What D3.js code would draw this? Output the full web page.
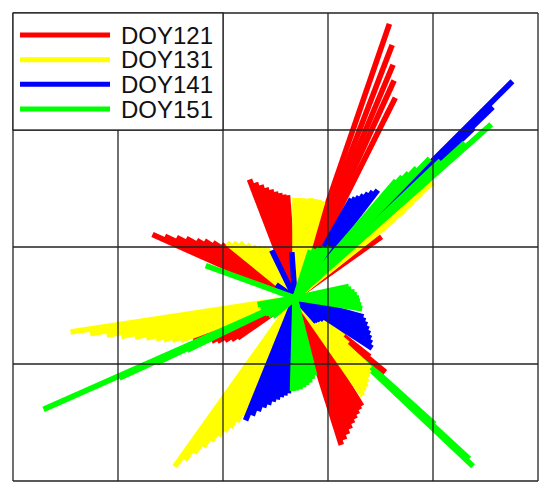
<!DOCTYPE html>
<html><head><meta charset="utf-8">
<script src="https://cdn.jsdelivr.net/npm/d3@7"></script>
<style>html,body{margin:0;padding:0;background:#fff;} svg{display:block;}</style>
</head><body>
<svg id="chart" width="550" height="494"></svg>
<script>
// Series (legend) names and colours
const seriesNames = ["DOY121", "DOY131", "DOY141", "DOY151"];
const seriesColors = ["#ff0000", "#ffff00", "#0000ff", "#00ff00"];

// Each ray: [direction in degrees (counter-clockwise from east), magnitude]
const rays121 = [
  [111.0,1.27],[108.9,1.22],[106.8,1.18],[104.8,1.14],[102.6,1.11],[100.5,1.08],[98.4,1.06],[96.3,1.04],[94.2,1.03],
  [71.0,2.90],[69.0,2.71],[67.2,2.53],[65.5,2.39],[63.4,2.24],
  [156.0,1.56],[154.6,1.44],[152.9,1.33],[151.3,1.24],[149.6,1.14],[147.8,1.07],[145.9,0.99],[144.0,0.91],
  [35.3,1.06],
  [202.0,1.10],[203.8,1.05],[205.6,0.99],[207.4,0.94],[209.2,0.89],[211.2,0.82],[213.2,0.76],[214.8,0.70],
  [320.6,1.17],[321.8,0.95],
  [287.5,1.54],[289.3,1.50],[291.1,1.46],[292.9,1.42],[294.7,1.38],[296.5,1.35],[298.3,1.32],[300.1,1.29],[301.7,1.27]
];
const rays131 = [
  [90.0,1.00],[87.7,1.00],[85.4,1.00],[83.1,1.00],[80.8,1.01],[78.5,1.01],[76.2,1.01],[74.0,1.01],
  [141.0,0.875],[138.0,0.83],[135.0,0.78],[132.0,0.72],[129.0,0.67],[126.0,0.63],[123.0,0.60],[120.0,0.575],
  [188.6,2.27],[189.9,2.08],[191.2,1.92],[192.5,1.78],[193.8,1.65],[195.1,1.54],[196.4,1.45],[197.7,1.38],[199.0,1.30],[200.3,1.22],
  [40.0,1.80],[39.6,1.64],[39.2,1.52],[38.8,1.40],[38.5,1.27],[38.3,1.15],
  [234.5,2.07],[235.8,1.96],[237.1,1.85],[238.4,1.75],[239.7,1.66],[241.0,1.58],[242.3,1.51],[243.6,1.45],[244.9,1.37],[246.3,1.29],
  [304.8,1.19],[306.8,1.16],[308.8,1.14],[310.8,1.11],[312.8,1.08],[314.8,1.06],[316.8,1.03],[319.0,0.70],[321.5,0.62]
];
const rays141 = [
  [44.9,3.07],[44.0,2.75],[43.6,2.47],[43.3,2.20],
  [60.3,1.14],[59.0,1.17],[57.7,1.20],[56.4,1.24],[55.1,1.28],[53.8,1.32],[52.5,1.36],
  [344.5,0.71],[342.0,0.74],[339.5,0.77],[337.0,0.80],[334.5,0.83],[332.0,0.86],[329.5,0.89],[327.0,0.92],
  [323.0,0.36],[319.0,0.34],[315.0,0.33],[312.0,0.32],
  [248.0,1.32],[250.0,1.25],[252.0,1.19],[254.0,1.14],[256.0,1.10],[258.0,1.06],[260.0,1.03],[262.0,1.00],[264.0,0.98],[266.0,0.955],
  [116.0,0.53],[94.0,0.46],[145.0,0.23]
];
// DOY151 rays that lie underneath the other days
const rays151Low = [
  [316.6,2.45],[317.3,2.37],[317.9,1.88]
];
const rays151 = [
  [203.9,2.75],[204.5,1.93],[205.1,1.53],[205.8,1.20],
  [160.0,0.95],
  [12.0,0.55],[9.0,0.57],[6.0,0.60],[3.0,0.62],[0.0,0.64],[357.0,0.65],[354.0,0.665],[351.0,0.68],
  [268.5,0.93],[270.8,0.925],[273.1,0.915],[275.4,0.90],[277.7,0.88],[280.0,0.86],[282.2,0.83],[284.2,0.80],
  [43.3,2.00],[42.4,2.30],[41.5,2.62],
  [49.3,1.55],[48.5,1.62],[47.7,1.69],[46.9,1.78],[46.0,1.94],
  [72.0,0.50],[68.0,0.53],[64.0,0.56],[60.0,0.59],[56.0,0.62],
  [190.0,0.38],[196.0,0.36],[202.0,0.35],[208.0,0.34],[214.0,0.32],[220.0,0.29]
];

// Grid line positions (data units)
const gridX = [-2.82, -1.77, -0.72, 0.33, 1.38, 2.43];
const gridY = [-1.83, -0.66, 0.51, 1.68, 2.85];

const svg = d3.select("#chart");
const x = d3.scaleLinear().domain([gridX[0], gridX[gridX.length-1]]).range([13, 538]);
const y = d3.scaleLinear().domain([gridY[0], gridY[gridY.length-1]]).range([481, 13]);

const layers = [
  {rays: rays151Low, color: seriesColors[3]},
  {rays: rays121, color: seriesColors[0]},
  {rays: rays131, color: seriesColors[1]},
  {rays: rays141, color: seriesColors[2]},
  {rays: rays151, color: seriesColors[3]}
];
const rad = d => d * Math.PI / 180;
const gRays = svg.append("g");
layers.forEach(L => {
  gRays.append("g").selectAll("line").data(L.rays).join("line")
    .attr("x1", x(0)).attr("y1", y(0))
    .attr("x2", d => x(d[1] * Math.cos(rad(d[0]))))
    .attr("y2", d => y(d[1] * Math.sin(rad(d[0]))))
    .attr("stroke", L.color).attr("stroke-width", 5.6).attr("stroke-linecap", "butt");
});

// Grid on top
const gGrid = svg.append("g").attr("stroke", "#222").attr("stroke-width", 1.3);
gGrid.selectAll("line.v").data(gridX).join("line").attr("class","v")
  .attr("x1", d => x(d)).attr("x2", d => x(d))
  .attr("y1", y(gridY[gridY.length-1])).attr("y2", y(gridY[0]));
gGrid.selectAll("line.h").data(gridY).join("line").attr("class","h")
  .attr("y1", d => y(d)).attr("y2", d => y(d))
  .attr("x1", x(gridX[0])).attr("x2", x(gridX[gridX.length-1]));

// Legend
const lg = svg.append("g");
lg.append("rect")
  .attr("x", x(gridX[0])).attr("y", y(gridY[4]))
  .attr("width", x(gridX[2]) - x(gridX[0])).attr("height", y(gridY[3]) - y(gridY[4]))
  .attr("fill", "#fff").attr("stroke", "#222").attr("stroke-width", 1.3);
const rowY = d3.scalePoint().domain(seriesNames).range([35, 109]);
seriesNames.forEach((name, i) => {
  lg.append("line").attr("x1", 20).attr("x2", 110)
    .attr("y1", rowY(name)).attr("y2", rowY(name))
    .attr("stroke", seriesColors[i]).attr("stroke-width", 5);
  lg.append("text").attr("x", 121).attr("y", rowY(name) + 8.5)
    .attr("font-family", "Liberation Sans, Arial, sans-serif").attr("font-size", 24)
    .attr("fill", "#111").text(name);
});
</script>
</body></html>
